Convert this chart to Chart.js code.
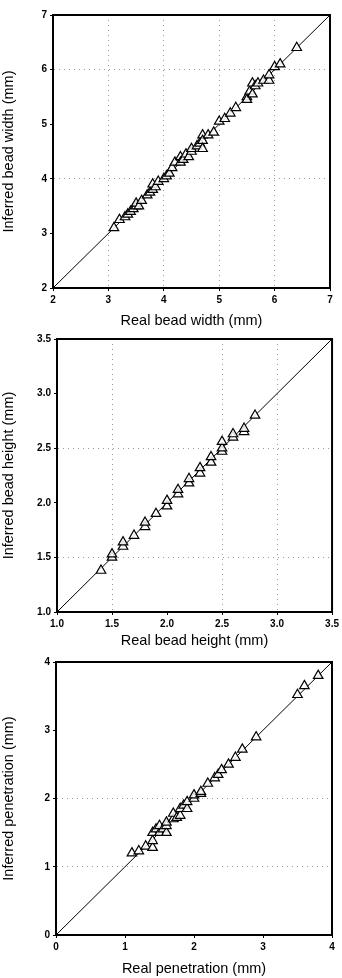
<!DOCTYPE html>
<html><head><meta charset="utf-8">
<script src="https://cdn.jsdelivr.net/npm/chart.js@4/dist/chart.umd.min.js"></script>
<style>
html,body{margin:0;padding:0;background:#fff;width:342px;height:978px;overflow:hidden}
.c{position:absolute;left:0;width:342px}
</style></head><body>
<div class="c" style="top:0;height:330px"><canvas id="c1"></canvas></div>
<div class="c" style="top:330px;height:320px"><canvas id="c2"></canvas></div>
<div class="c" style="top:650px;height:328px"><canvas id="c3"></canvas></div>
<script>
// Chart 1: bead width
const widthReal =     [3.1,3.2,3.3,3.35,3.4,3.45,3.5,3.5,3.55,3.6,3.7,3.75,3.8,3.8,3.85,3.9,4.0,4.05,4.1,4.15,4.2,4.3,4.3,4.35,4.4,4.45,4.5,4.5,4.6,4.65,4.7,4.7,4.7,4.8,4.9,5.0,5.1,5.2,5.3,5.5,5.5,5.55,5.6,5.6,5.65,5.7,5.8,5.9,5.9,6.0,6.1,6.4];
const widthInferred = [3.1,3.25,3.3,3.35,3.4,3.45,3.5,3.55,3.5,3.6,3.7,3.75,3.8,3.9,3.85,3.95,4.0,4.05,4.1,4.2,4.3,4.4,4.3,4.35,4.45,4.4,4.5,4.55,4.6,4.65,4.8,4.7,4.55,4.8,4.85,5.05,5.1,5.2,5.3,5.5,5.45,5.6,5.75,5.55,5.7,5.75,5.8,5.8,5.9,6.05,6.1,6.4];
const widthTicks = [2,3,4,5,6,7];
// Chart 2: bead height
const heightReal =     [1.4,1.5,1.5,1.6,1.6,1.7,1.8,1.8,1.9,2.0,2.0,2.1,2.1,2.2,2.2,2.3,2.3,2.4,2.4,2.5,2.5,2.5,2.6,2.6,2.7,2.7,2.8];
const heightInferred = [1.38,1.5,1.53,1.6,1.64,1.7,1.78,1.82,1.9,1.97,2.02,2.08,2.12,2.18,2.22,2.27,2.32,2.37,2.42,2.47,2.5,2.56,2.6,2.63,2.65,2.68,2.8];
const heightTicks = [1.0,1.5,2.0,2.5,3.0,3.5];
// Chart 3: penetration
const penReal =     [1.1,1.2,1.3,1.4,1.4,1.4,1.45,1.5,1.5,1.55,1.6,1.6,1.6,1.7,1.7,1.75,1.8,1.8,1.85,1.9,1.9,2.0,2.0,2.1,2.1,2.2,2.3,2.35,2.4,2.5,2.6,2.7,2.9,3.5,3.6,3.8];
const penInferred = [1.2,1.23,1.3,1.28,1.38,1.5,1.55,1.5,1.6,1.55,1.5,1.6,1.65,1.7,1.78,1.72,1.75,1.85,1.9,1.85,1.95,2.0,2.05,2.07,2.1,2.22,2.3,2.35,2.42,2.5,2.6,2.72,2.9,3.52,3.65,3.8];
const penTicks = [0,1,2,3,4];

const FONT = "'Liberation Sans', Arial, sans-serif";

const frame = {
  id:'frame',
  afterDatasetsDraw(chart){
    const a = chart.chartArea, ctx = chart.ctx;
    ctx.save();
    ctx.strokeStyle = '#000';
    ctx.lineWidth = 2;
    ctx.strokeRect(a.left, a.top, a.right - a.left, a.bottom - a.top);
    ctx.restore();
  }
};

function make(id, xs, ys, ticks, xTitle, yTitle, pad, yW, xH, dec, xGrid, yGrid){
  const min = ticks[0], max = ticks[ticks.length-1];
  const pts = xs.map((x,i)=>({x:x, y:ys[i]}));
  const fmt = v => dec ? Number(v).toFixed(1) : String(v);
  const tickOpts = {
    color:'#000', font:{family:FONT, size:10, weight:'bold'},
    autoSkip:false, padding:3
  };
  const gridFor = show => ({
    color: ctx => (ctx.tick && show.some(v => Math.abs(v - ctx.tick.value) < 1e-9)) ? '#999' : 'rgba(0,0,0,0)',
    lineWidth:1,
    tickColor:'#000', tickLength:3, tickBorderDash:[], drawTicks:true
  });
  const border = {display:true, color:'#000', width:2, dash:[1,4]};
  new Chart(document.getElementById(id), {
    type:'scatter',
    data:{datasets:[
      {data:[{x:min,y:min},{x:max,y:max}], showLine:true, borderColor:'#000', borderWidth:1, pointRadius:0, order:2},
      {data:pts, pointStyle:'triangle', pointRadius:5.5, pointBackgroundColor:'rgba(255,255,255,0.85)', pointBorderColor:'#000', pointBorderWidth:1.2, order:1}
    ]},
    options:{
      responsive:true, maintainAspectRatio:false, animation:false,
      layout:{padding:pad},
      plugins:{legend:{display:false}, tooltip:{enabled:false}},
      scales:{
        x:{type:'linear', min:min, max:max,
          afterBuildTicks(s){ s.ticks = ticks.map(v=>({value:v})); },
          afterFit(s){ s.height = xH; },
          ticks:Object.assign({}, tickOpts, {callback:fmt, maxRotation:0}),
          grid:gridFor(xGrid), border:border,
          title:{display:true, text:xTitle, color:'#000', font:{family:FONT, size:14.5}, padding:{top:1,bottom:0}}
        },
        y:{type:'linear', min:min, max:max,
          afterBuildTicks(s){ s.ticks = ticks.map(v=>({value:v})); },
          afterFit(s){ s.width = yW; },
          ticks:Object.assign({}, tickOpts, {callback:fmt}),
          grid:gridFor(yGrid), border:border,
          title:{display:true, text:yTitle, color:'#000', font:{family:FONT, size:14.5}, padding:{top:0,bottom:3}}
        }
      }
    },
    plugins:[frame]
  });
}

make('c1', widthReal, widthInferred, widthTicks, 'Real bead width (mm)', 'Inferred bead width (mm)', {top:15,right:12,left:0,bottom:0}, 53, 42, false, [3,4,5,6], [4,6]);
make('c2', heightReal, heightInferred, heightTicks, 'Real bead height (mm)', 'Inferred bead height (mm)', {top:8,right:9,left:0,bottom:0}, 57, 38, true, [1.5,2.5,3.0], [1.5,2.5]);
make('c3', penReal, penInferred, penTicks, 'Real penetration (mm)', 'Inferred penetration (mm)', {top:12,right:10,left:0,bottom:0}, 56, 43, false, [], [1,2]);
</script>
</body></html>
